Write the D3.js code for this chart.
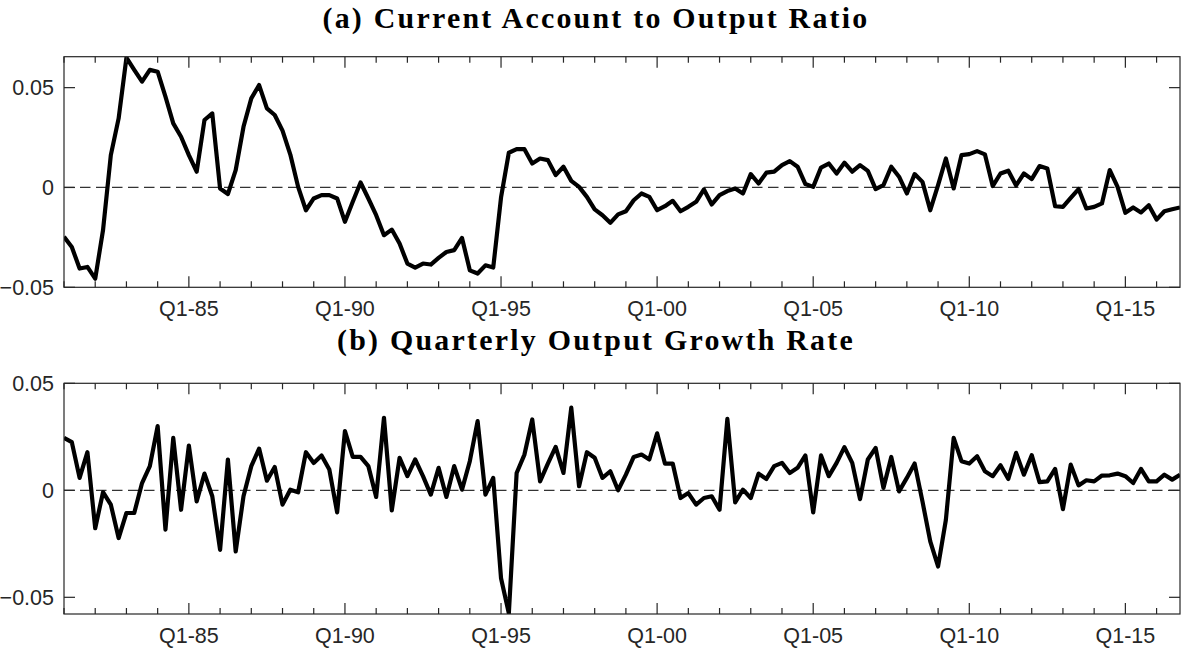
<!DOCTYPE html>
<html>
<head>
<meta charset="utf-8">
<script src="https://cdn.jsdelivr.net/npm/d3@7"></script>
<style>
  html, body { margin: 0; padding: 0; background: #fff; }
  svg { display: block; }
  .tick-label { font-family: "Liberation Sans", Arial, Helvetica, sans-serif; font-size: 21.5px; fill: #262626; }
  .panel-title { font-family: "Liberation Serif", "Times New Roman", serif; font-weight: bold; fill: #000; }
</style>
</head>
<body>
<svg id="chart" width="1181" height="649"></svg>
<script>
(function() {
    'use strict';

    // quarters Q1-81 .. Q4-16, as fractional years
    var quarters = d3.range(1981, 2017, 0.25);

    var majorYears = [1985, 1990, 1995, 2000, 2005, 2010, 2015];
    var minorYears = d3.range(1981, 2017);

    var caTicks = [-0.05, 0, 0.05];
    var growthTicks = [-0.05, 0, 0.05];

    // (a) current account to output ratio
    var caRatio = [
        -0.0247, -0.0298, -0.0406, -0.0398, -0.0457, -0.0214, 0.0162, 0.0346,
         0.0650,  0.0589,  0.0530,  0.0589,  0.0580,  0.0455, 0.0321, 0.0254,
         0.0162,  0.0079,  0.0338,  0.0371, -0.0005, -0.0033, 0.0087, 0.0304,
         0.0446,  0.0513,  0.0396,  0.0363,  0.0285,  0.0165, 0.0003, -0.0114,
        -0.0055, -0.0038, -0.0038, -0.0055, -0.0172, -0.0072, 0.0025, -0.0055,
        -0.0139, -0.0239, -0.0211, -0.0281, -0.0381, -0.0401, -0.0381, -0.0386,
        -0.0353, -0.0323, -0.0314, -0.0253, -0.0415, -0.0431, -0.0390, -0.0401,
        -0.0050,  0.0174,  0.0192,  0.0192,  0.0120,  0.0145, 0.0137, 0.0062,
         0.0104,  0.0033,  0.0003, -0.0047, -0.0110, -0.0139, -0.0177, -0.0135,
        -0.0119, -0.0064, -0.0030, -0.0047, -0.0114, -0.0094, -0.0067, -0.0119,
        -0.0097, -0.0072, -0.0010, -0.0085, -0.0038, -0.0018, -0.0005, -0.0030,
         0.0067,  0.0020,  0.0074,  0.0079,  0.0112,  0.0132, 0.0104, 0.0017,
         0.0003,  0.0100,  0.0120,  0.0070,  0.0124,  0.0079, 0.0112, 0.0083,
        -0.0008,  0.0012,  0.0104,  0.0054, -0.0030,  0.0067, 0.0028, -0.0114,
         0.0012,  0.0145, -0.0005,  0.0162,  0.0167,  0.0182, 0.0166, 0.0007,
         0.0070,  0.0084,  0.0010,  0.0070,  0.0042,  0.0107, 0.0095, -0.0094,
        -0.0097, -0.0052, -0.0008, -0.0105, -0.0097, -0.0080, 0.0087, 0.0003,
        -0.0127, -0.0100, -0.0125, -0.0089, -0.0161, -0.0119, -0.0109, -0.0100
    ];

    // (b) quarterly output growth rate
    var growth = [
         0.0245,  0.0225,  0.0058,  0.0178, -0.0177, -0.0009, -0.0067, -0.0223,
        -0.0106, -0.0106,  0.0034,  0.0113,  0.0300, -0.0184,  0.0245, -0.0091,
         0.0209, -0.0052,  0.0078, -0.0028, -0.0278,  0.0144, -0.0286, -0.0028,
         0.0113,  0.0195,  0.0045,  0.0109, -0.0067,  0.0003, -0.0009,  0.0178,
         0.0128,  0.0163,  0.0097, -0.0103,  0.0277,  0.0156,  0.0156,  0.0113,
        -0.0031,  0.0339, -0.0094,  0.0152,  0.0066,  0.0144,  0.0066, -0.0020,
         0.0105, -0.0031,  0.0113,  0.0003,  0.0136,  0.0323, -0.0020,  0.0058,
        -0.0411, -0.0575,  0.0081,  0.0167,  0.0331,  0.0042,  0.0125,  0.0203,
         0.0081,  0.0386,  0.0019,  0.0178,  0.0152,  0.0058,  0.0089,  0.0000,
         0.0073,  0.0156,  0.0167,  0.0144,  0.0266,  0.0125,  0.0125, -0.0036,
        -0.0013, -0.0067, -0.0036, -0.0028, -0.0091,  0.0334, -0.0056,  0.0003,
        -0.0036,  0.0078,  0.0053,  0.0113,  0.0128,  0.0081,  0.0105,  0.0163,
        -0.0103,  0.0163,  0.0066,  0.0128,  0.0202,  0.0128, -0.0041,  0.0144,
         0.0198,  0.0011,  0.0156, -0.0005,  0.0058,  0.0125, -0.0052, -0.0239,
        -0.0356, -0.0138,  0.0245,  0.0136,  0.0125,  0.0159,  0.0089,  0.0066,
         0.0117,  0.0053,  0.0175,  0.0073,  0.0164,  0.0038,  0.0042,  0.0100,
        -0.0088,  0.0120,  0.0023,  0.0047,  0.0042,  0.0069,  0.0070,  0.0078,
         0.0066,  0.0034,  0.0100,  0.0042,  0.0042,  0.0073,  0.0050,  0.0073
    ];

    var svg = d3.select('#chart');
    var left = 64, right = 1180, titleX = 596;
    var axisColor = '#262626';

    var x = d3.scaleLinear()
        .domain([quarters[0], quarters[quarters.length - 1]])
        .range([left, right]);

    function fmtQ(y) { return 'Q1-' + String(y).slice(2); }

    // title: slightly smaller face, spaced out to the reference width
    var titleA = '(a) Current Account to Output Ratio';
    var probe = svg.append('text').attr('class', 'panel-title')
        .style('font-size', '100px').text(titleA);
    var w100 = probe.node().getComputedTextLength();
    probe.remove();
    var titleSize = 0.86 * 100 * 545 / w100;
    var titleSpacing = (545 - w100 * titleSize / 100) / (titleA.length - 1);

    /******************************************************************
        one panel
     ******************************************************************/
    function panel(o) {
        var y = d3.scaleLinear().domain(o.domain).range([o.bottom, o.top]);
        var g = svg.append('g');

        g.append('clipPath').attr('id', o.id + '-clip')
            .append('rect')
                .attr('x', left).attr('y', o.top)
                .attr('width', right - left).attr('height', o.bottom - o.top);

        // zero reference
        g.append('line')
            .attr('x1', left).attr('x2', right)
            .attr('y1', y(0)).attr('y2', y(0))
            .attr('stroke', '#333').attr('stroke-width', 1.2)
            .attr('stroke-dasharray', '10.5,5.5');

        g.append('path')
            .datum(o.values)
            .attr('clip-path', 'url(#' + o.id + '-clip)')
            .attr('fill', 'none')
            .attr('stroke', '#000')
            .attr('stroke-width', 4.2)
            .attr('stroke-linejoin', 'round')
            .attr('d', d3.line()
                .x(function(d, i) { return x(quarters[i]); })
                .y(function(d) { return y(d); }));

        // box
        g.append('rect')
            .attr('x', left).attr('y', o.top)
            .attr('width', right - left).attr('height', o.bottom - o.top)
            .attr('fill', 'none').attr('stroke', axisColor).attr('stroke-width', 1.2);

        // x ticks, top and bottom, pointing in
        [[o.bottom, -1], [o.top, 1]].forEach(function(s) {
            g.selectAll(null).data(minorYears).enter().append('line')
                .attr('x1', function(d) { return x(d); })
                .attr('x2', function(d) { return x(d); })
                .attr('y1', s[0])
                .attr('y2', function(d) { return s[0] + s[1] * (majorYears.indexOf(d) >= 0 ? 11 : 6); })
                .attr('stroke', axisColor).attr('stroke-width', 1.2);
        });

        // y ticks, left and right, pointing in
        [[left, 1], [right, -1]].forEach(function(s) {
            g.selectAll(null).data(o.ticks).enter().append('line')
                .attr('x1', s[0]).attr('x2', s[0] + s[1] * 11)
                .attr('y1', function(d) { return y(d); })
                .attr('y2', function(d) { return y(d); })
                .attr('stroke', axisColor).attr('stroke-width', 1.2);
        });

        g.selectAll(null).data(majorYears).enter().append('text')
            .attr('class', 'tick-label')
            .attr('x', function(d) { return x(d); })
            .attr('y', o.bottom + 29)
            .attr('text-anchor', 'middle')
            .text(fmtQ);

        g.selectAll(null).data(o.ticks).enter().append('text')
            .attr('class', 'tick-label')
            .attr('x', left - 10)
            .attr('y', function(d) { return y(d); })
            .attr('dy', '0.36em')
            .attr('text-anchor', 'end')
            .text(function(d) { return d === 0 ? '0' : d3.format('.2f')(d); });

        svg.append('text')
            .attr('class', 'panel-title')
            .attr('x', titleX).attr('y', o.titleY)
            .attr('text-anchor', 'middle')
            .style('font-size', titleSize + 'px')
            .style('letter-spacing', titleSpacing + 'px')
            .text(o.title);
    }

    panel({ id: 'ca', values: caRatio, domain: [-0.05, 0.0655], ticks: caTicks,
            top: 56.7, bottom: 287.3, titleY: 28,
            title: '(a) Current Account to Output Ratio' });

    panel({ id: 'gr', values: growth, domain: [-0.0578, 0.05], ticks: growthTicks,
            top: 383.3, bottom: 614, titleY: 350,
            title: '(b) Quarterly Output Growth Rate' });
})();
</script>
</body>
</html>
